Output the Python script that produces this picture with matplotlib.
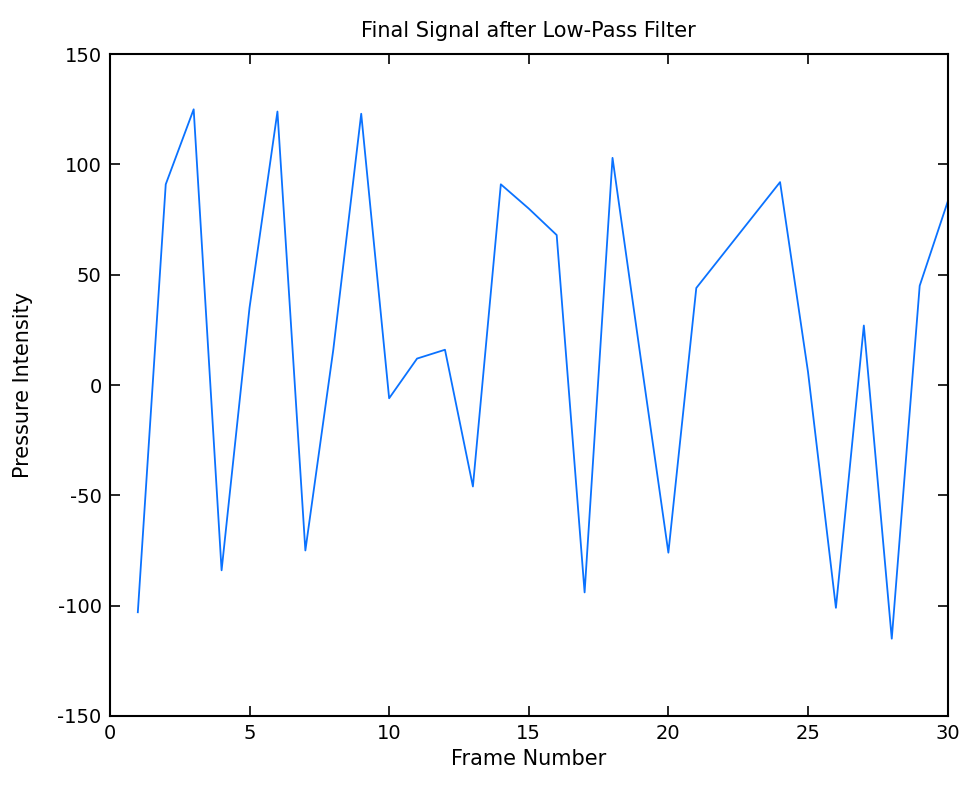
import matplotlib
matplotlib.use("Agg")
import matplotlib.pyplot as plt

# values, one per frame
frames = list(range(1, 31))
pressure = [-103, 91, 125, -84, 35, 124, -75, 16, 123, -6,
            12, 16, -46, 91, 80, 68, -94, 103, 13, -76,
            44, 60, 76, 92, 6, -101, 27, -115, 45, 83]

x_ticks = [0, 5, 10, 15, 20, 25, 30]
y_ticks = [-150, -100, -50, 0, 50, 100, 150]

plt.rcParams['font.family'] = ['DejaVu Sans']
plt.rcParams['axes.unicode_minus'] = False

fig = plt.figure(figsize=(9.64, 7.85), dpi=100)
ax = fig.add_axes([0.114, 0.088, 0.869, 0.843])

ax.plot(frames, pressure, color='#0a72ff', linewidth=1.3)

ax.set_xlim(0, 30)
ax.set_ylim(-150, 150)
ax.set_xticks(x_ticks)
ax.set_yticks(y_ticks)
ax.tick_params(direction='in', length=7, width=1.2, top=True, right=True,
               labelsize=14, pad=6)
for s in ax.spines.values():
    s.set_linewidth(1.5)

ax.set_title('Final Signal after Low-Pass Filter', fontsize=15, pad=12)
ax.set_xlabel('Frame Number', fontsize=15, labelpad=4)
ax.set_ylabel('Pressure Intensity', fontsize=15)
ax.yaxis.set_label_coords(-0.092, 0.5)

fig.savefig('out.png', dpi=100)
